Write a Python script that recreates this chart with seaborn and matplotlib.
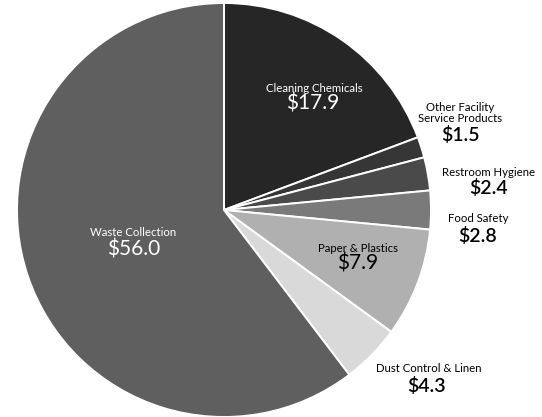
import matplotlib
matplotlib.use("Agg")
import matplotlib.pyplot as plt
import seaborn as sns

# ---- data ----
categories = ["Cleaning Chemicals", "Other Facility\nService Products", "Restroom Hygiene",
              "Food Safety", "Paper & Plastics", "Dust Control & Linen", "Waste Collection"]
values = [17.9, 1.5, 2.4, 2.8, 7.9, 4.3, 56.0]
value_labels = ["$17.9", "$1.5", "$2.4", "$2.8", "$7.9", "$4.3", "$56.0"]

# ---- style ----
colors = ["#262626", "#363636", "#4a4a4a", "#7a7a7a", "#b0b0b0", "#d9d9d9", "#5f5f5f"]
sns.set_theme(style="white")
plt.rcParams["font.family"] = ["Lato", "DejaVu Sans"]

W, H, DPI = 542, 417, 100
CX, CY, R = 224, 210, 207  # pie centre / radius in pixels


def px(x, y):
    return (x - CX) / R, (CY - y) / R


# label layout (pixel anchors): name position, value position, inside?, text colour
label_layout = [
    ((314, 88), (313, 103), True, "white"),
    ((460, 113), (461, 135), False, "black"),
    ((489, 172), (489, 188), False, "black"),
    ((478, 219), (478, 236), False, "black"),
    ((358, 248), (358, 264), True, "black"),
    ((429, 369), (427, 386), False, "black"),
    ((133, 232), (134, 249), True, "white"),
]

fig = plt.figure(figsize=(W / DPI, H / DPI), dpi=DPI)
ax = fig.add_axes([0, 0, 1, 1])
ax.pie(values, colors=colors, startangle=90, counterclock=False, radius=1,
       wedgeprops=dict(edgecolor="white", linewidth=1.4))

for name, val, (npos, vpos, inside, col) in zip(categories, value_labels, label_layout):
    nx, ny = px(*npos)
    vx, vy = px(*vpos)
    ax.text(nx, ny, name, ha="center", va="center", color=col,
            fontsize=8.2, linespacing=1.1)
    ax.text(vx, vy, val, ha="center", va="center", color=col,
            fontsize=15 if inside else 14,
            fontweight="normal" if inside else "semibold")

x0, _ = px(0, 0)
x1, _ = px(W, 0)
_, y0 = px(0, H)
_, y1 = px(0, 0)
ax.set_xlim(x0, x1)
ax.set_ylim(y0, y1)
ax.set_aspect("auto")
ax.axis("off")
fig.savefig("out.png", dpi=DPI, facecolor="white")
